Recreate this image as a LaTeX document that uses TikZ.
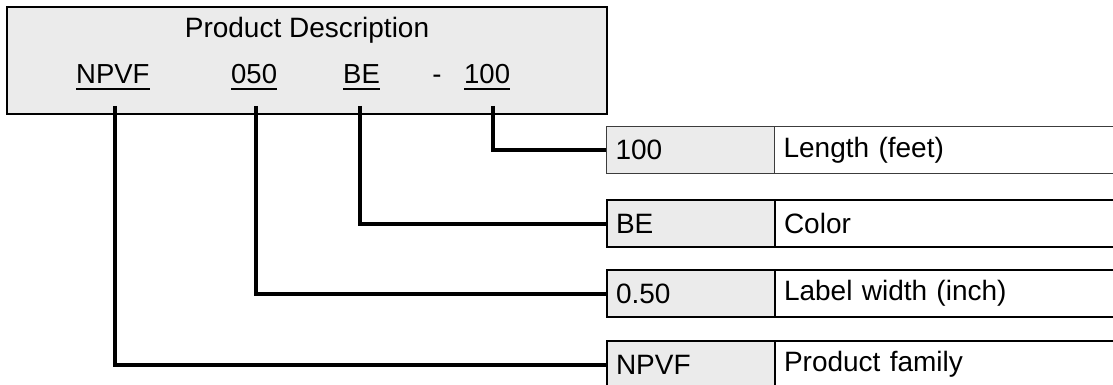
\documentclass[tikz,border=0pt]{standalone}
\usepackage{fontspec}
\setmainfont{Liberation Sans}
\definecolor{boxgray}{HTML}{EBEBEB}
\definecolor{rowline}{HTML}{3C3C3C}
\begin{document}
\begin{tikzpicture}[x=1pt,y=-1pt,
  font=\fontsize{27.5}{32}\selectfont,
  code/.style={inner sep=0pt, anchor=base west},
  uline/.style={line width=1.7pt},
  conn/.style={line width=4pt},
  cellbase/.style={draw, line width=2pt, minimum height=47pt, inner xsep=9pt, inner ysep=0pt,
    align=left, anchor=north west, font=\fontsize{28}{32}\selectfont},
  keycell/.style={cellbase, fill=boxgray, text width=150pt},
  valcell/.style={cellbase, fill=white, text width=400pt},
  thinrow/.style={draw=rowline, line width=1.2pt}]
\useasboundingbox (0,0) rectangle (1113,385);

% header box
\node[draw, line width=2pt, fill=boxgray, anchor=north west, inner sep=0pt,
      minimum width=600pt, minimum height=107pt] (hdr) at (5.5,6.5) {};
\node[anchor=base, inner sep=0pt, font=\fontsize{28}{32}\selectfont] (title) at (307,38) {Product Description};
\node[code] (cnpvf) at (76,84) {NPVF};
\node[code] (c050) at (231,84) {050};
\node[code] (cbe) at (343,84) {BE};
\node[anchor=base, inner sep=0pt] (dash) at (437,84) {-};
\node[code] (c100) at (464,84) {100};
\foreach \n in {cnpvf,c050,cbe,c100}
  \draw[uline] ([yshift=-5pt]\n.base west) -- ([yshift=-5pt]\n.base east);

% table rows
\node[keycell, thinrow] (k1) at (606,126) {100};
\node[valcell, thinrow] (v1) at (774,126) {Length (feet)};
\node[keycell] (k2) at (606,199) {BE};
\node[valcell] (v2) at (774,199) {Color};
\node[keycell] (k3) at (606,269) {0.50};
\node[valcell] (v3) at (774,269) {Label width (inch)};
\node[keycell] (k4) at (606,340) {NPVF};
\node[valcell] (v4) at (774,340) {Product family};

% connectors
\coordinate (s1) at (115,106);
\coordinate (s2) at (256,106);
\coordinate (s3) at (360,106);
\coordinate (s4) at (493,106);
\draw[conn] (s1) |- (k4.west);
\draw[conn] (s2) |- (k3.west);
\draw[conn] (s3) |- (k2.west);
\draw[conn] (s4) |- (k1.west);
\end{tikzpicture}
\end{document}
